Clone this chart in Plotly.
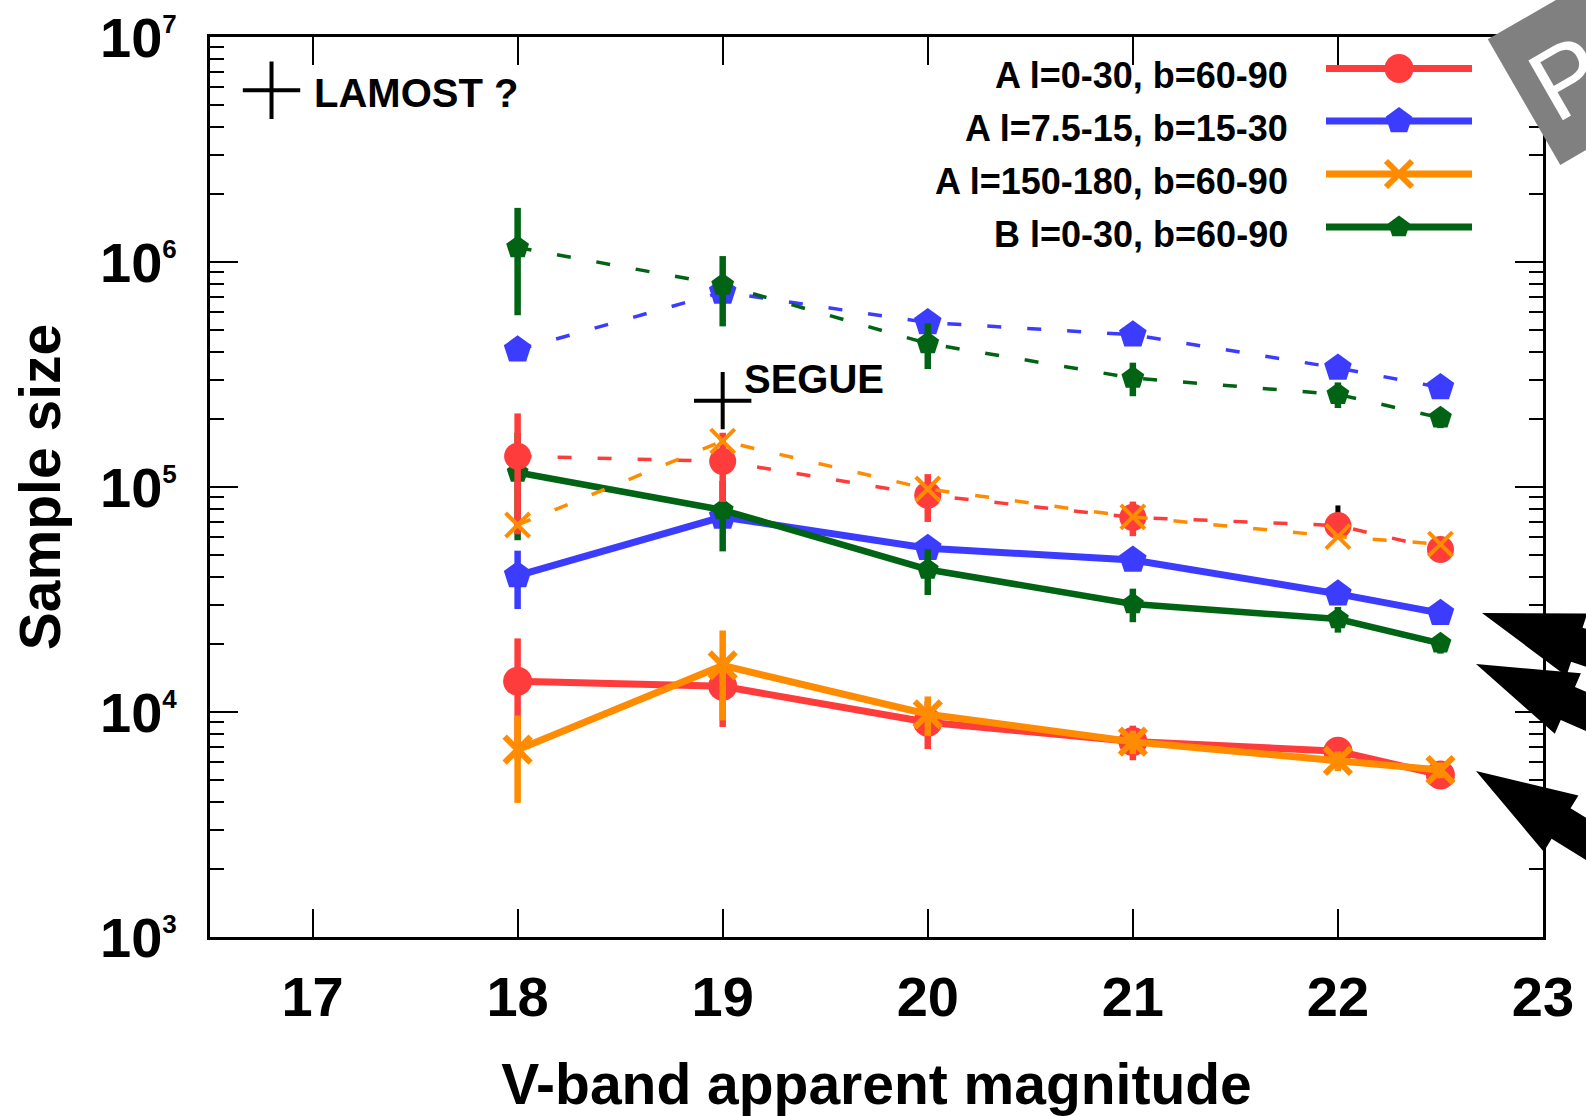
import math
import plotly.graph_objects as go

# ---------------- data ----------------
mag = [18, 19, 20, 21, 22, 22.5]

series_names = ["A l=0-30, b=60-90", "A l=7.5-15, b=15-30",
                "A l=150-180, b=60-90", "B l=0-30, b=60-90"]

a_l0_b60 = [13700, 13000, 9000, 7400, 6700, 5250]
a_l7_b15 = [40400, 73600, 53400, 47400, 33500, 27500]
a_l150_b60 = [6800, 16100, 9770, 7380, 6070, 5520]
b_l0_b60 = [116000, 79000, 43000, 30200, 25900, 20200]

a_l0_b60_x10 = [137000, 130000, 92000, 73300, 67400, 52800]
a_l7_b15_x10 = [407000, 735000, 538000, 475000, 338000, 277000]
a_l150_b60_x10 = [67800, 160000, 98000, 73600, 60200, 55700]
b_l0_b60_x10 = [1160000, 790000, 434000, 305000, 258000, 203000]

frac_err_a_l0 = [0.55, 0.34, 0.24, 0.175, 0.10, 0.08]
frac_err_a_l7 = [0.29, 0.10, 0.06, 0.05, 0.04, 0.03]
frac_err_a_l150 = [0.42, 0.43, 0.20, 0.12, 0.10, 0.08]
frac_err_b_l0 = [0.50, 0.345, 0.23, 0.17, 0.13, 0.10]

extra_tick_mag = [22]
extra_tick_val = [67400]
extra_tick_up = [15400]

survey_names = ["LAMOST ?", "SEGUE"]
survey_mag = [16.8, 19.0]
survey_size = [5.8e6, 2.42e5]

x_ticks = [17, 18, 19, 20, 21, 22, 23]
y_exponents = [3, 4, 5, 6, 7]

# ---------------- style ----------------
RED = "#ff3c3c"
BLUE = "#3c3cff"
ORANGE = "#ff8c00"
GREEN = "#006414"
FONT = "Liberation Sans, Arial, Helvetica, sans-serif"

W, H = 1586, 1116
ML, MR, MT, MB = 210, 43, 37, 179
PW, PH = W - ML - MR, H - MT - MB


def px_to_paper(px, py):
    return (px - ML) / PW, (H - MB - py) / PH


def errs(vals, fr):
    return [v * f for v, f in zip(vals, fr)]


fig = go.Figure()

def add_series(vals, color, symbol, size, lw, dash, err=None, mlw=0):
    kw = {}
    if err is not None:
        kw["error_y"] = dict(type="data", array=err, visible=True,
                             color=color, thickness=6.5, width=0)
    fig.add_trace(go.Scatter(
        x=mag, y=vals, mode="lines+markers", showlegend=False,
        line=dict(color=color, width=lw, dash=dash),
        marker=dict(symbol=symbol, size=size, color=color,
                    line=dict(color=color, width=mlw)),
        **kw))

DASH = "14px,26px"
add_series(a_l7_b15_x10, BLUE, "pentagon", 29, 3.5, DASH)
add_series(a_l7_b15, BLUE, "pentagon", 29, 7, "solid",
           errs(a_l7_b15, frac_err_a_l7))
add_series(b_l0_b60_x10, GREEN, "pentagon", 24, 3.5, DASH,
           errs(b_l0_b60_x10, frac_err_b_l0))
add_series(b_l0_b60, GREEN, "pentagon", 23, 6.5, "solid",
           errs(b_l0_b60, frac_err_b_l0))

fig.add_trace(go.Scatter(
    x=extra_tick_mag, y=extra_tick_val, mode="markers", showlegend=False,
    marker=dict(size=1, color="rgba(0,0,0,0)"),
    error_y=dict(type="data", symmetric=False, array=extra_tick_up,
                 arrayminus=[0], color="black", thickness=5, width=0)))

add_series(a_l0_b60_x10, RED, "circle", 27, 3.5, DASH,
           errs(a_l0_b60_x10, frac_err_a_l0))
add_series(a_l0_b60, RED, "circle", 29, 7, "solid",
           errs(a_l0_b60, frac_err_a_l0))
add_series(a_l150_b60_x10, ORANGE, "x-thin-open", 24, 3.5, DASH, None, mlw=4)
add_series(a_l150_b60, ORANGE, "x-thin-open", 26, 7, "solid",
           errs(a_l150_b60, frac_err_a_l150), mlw=6)

# survey markers
fig.add_trace(go.Scatter(
    x=survey_mag, y=survey_size, mode="markers", showlegend=False,
    marker=dict(symbol="cross-thin-open", size=41, color="black",
                line=dict(color="black", width=4))))

annotations = []
annotations.append(dict(x=survey_mag[0], y=math.log10(survey_size[0]),
                        xref="x", yref="y", text=survey_names[0],
                        showarrow=False, xanchor="left", yanchor="middle",
                        xshift=40, yshift=-3,
                        font=dict(family=FONT, size=40, color="black",
                                  weight="bold")))
annotations.append(dict(x=survey_mag[1], y=math.log10(survey_size[1]),
                        xref="x", yref="y", text=survey_names[1],
                        showarrow=False, xanchor="left", yanchor="middle",
                        xshift=19, yshift=22,
                        font=dict(family=FONT, size=40, color="black",
                                  weight="bold")))

# manual legend (text left, key right)
leg_text_px = 1290
leg_line_px = (1326, 1472)
leg_rows_px = [68.5, 121, 174, 227]
leg_styles = [
    (RED, "circle", 29, 0),
    (BLUE, "pentagon", 28, 0),
    (ORANGE, "x-thin-open", 26, 6),
    (GREEN, "pentagon", 23, 0),
]
for name, row, (col, sym, sz, mlw) in zip(series_names, leg_rows_px, leg_styles):
    tx, ty = px_to_paper(leg_text_px, row + 7)
    annotations.append(dict(x=tx, y=ty, xref="paper", yref="paper",
                            text=name, showarrow=False, xanchor="right",
                            yanchor="middle",
                            font=dict(family=FONT, size=36, color="black",
                                      weight="bold")))
    x0, yy = px_to_paper(leg_line_px[0], row)
    x1, _ = px_to_paper(leg_line_px[1], row)
    fig.add_trace(go.Scatter(x=[x0, x1], y=[yy, yy], mode="lines",
                             xaxis="x2", yaxis="y2", showlegend=False,
                             line=dict(color=col, width=7),
                             hoverinfo="skip"))
    fig.add_trace(go.Scatter(x=[(x0 + x1) / 2], y=[yy], mode="markers",
                             xaxis="x2", yaxis="y2", showlegend=False,
                             marker=dict(symbol=sym, size=sz, color=col,
                                         line=dict(color=col, width=mlw)),
                             hoverinfo="skip"))

# rotated grey "Preliminary" stamp (mostly off page)
annotations.append(dict(x=1.1588, y=1.0753, xref="paper", yref="paper",
                        text="Preliminary", showarrow=False,
                        xanchor="center", yanchor="middle", textangle=-30,
                        bgcolor="#808080", borderpad=16,
                        font=dict(family=FONT, size=100, color="white")))

# big black arrows at right edge
def arrow_path(tip, ang_deg, L=100, Hh=33, h=18, Ls=360):
    a = math.radians(ang_deg)
    ux, uy = math.cos(a), math.sin(a)
    nx, ny = -math.sin(a), math.cos(a)
    tx, ty = tip
    pts = [
        (tx, ty),
        (tx + L * ux + Hh * nx, ty + L * uy + Hh * ny),
        (tx + L * ux + h * nx, ty + L * uy + h * ny),
        (tx + Ls * ux + h * nx, ty + Ls * uy + h * ny),
        (tx + Ls * ux - h * nx, ty + Ls * uy - h * ny),
        (tx + L * ux - h * nx, ty + L * uy - h * ny),
        (tx + L * ux - Hh * nx, ty + L * uy - Hh * ny),
    ]
    pp = [px_to_paper(*p) for p in pts]
    return "M " + " L ".join(f"{x:.5f},{y:.5f}" for x, y in pp) + " Z"

arrow_tips = [((1482, 613), 18.5), ((1476, 664), 23.3), ((1476, 771), 31.7)]
shapes = []
for tip, ang in arrow_tips:
    shapes.append(dict(type="path", path=arrow_path(tip, ang),
                       xref="paper", yref="paper",
                       fillcolor="black", line=dict(width=0),
                       layer="above"))

ytext = [f"10<sup><span style='font-size:26px'>{e}</span></sup>"
         for e in y_exponents]

fig.update_layout(
    width=W, height=H,
    margin=dict(l=ML, r=MR, t=MT, b=MB, pad=0, autoexpand=False),
    paper_bgcolor="white", plot_bgcolor="white",
    showlegend=False,
    font=dict(family=FONT, color="black"),
    annotations=annotations,
    shapes=shapes,
    xaxis=dict(range=[16.5, 23], tickvals=x_ticks,
               ticktext=[str(t) for t in x_ticks],
               ticks="inside", ticklen=28, tickwidth=2, tickcolor="black",
               showline=True, linewidth=3, linecolor="black", mirror="ticks",
               showgrid=False, zeroline=False, automargin=False,
               ticklabelstandoff=9,
               tickfont=dict(family=FONT, size=56, weight="bold"),
               title=dict(text="V-band apparent magnitude", standoff=44,
                          font=dict(family=FONT, size=57, weight="bold"))),
    yaxis=dict(type="log", range=[3, 7],
               tickvals=[10 ** e for e in y_exponents], ticktext=ytext,
               ticks="inside", ticklen=28, tickwidth=2, tickcolor="black",
               minor=dict(ticks="inside", ticklen=14, tickwidth=2,
                          tickcolor="black", dtick="D1", showgrid=False),
               showline=True, linewidth=3, linecolor="black", mirror="ticks",
               showgrid=False, zeroline=False, automargin=False,
               ticklabelstandoff=19,
               tickfont=dict(family=FONT, size=56, weight="bold"),
               title=dict(text="Sample size", standoff=22,
                          font=dict(family=FONT, size=57, weight="bold"))),
    xaxis2=dict(overlaying="x", range=[0, 1], visible=False,
                anchor="y2", fixedrange=True),
    yaxis2=dict(overlaying="y", range=[0, 1], visible=False,
                anchor="x2", fixedrange=True),
)

fig.write_html("out.html")
